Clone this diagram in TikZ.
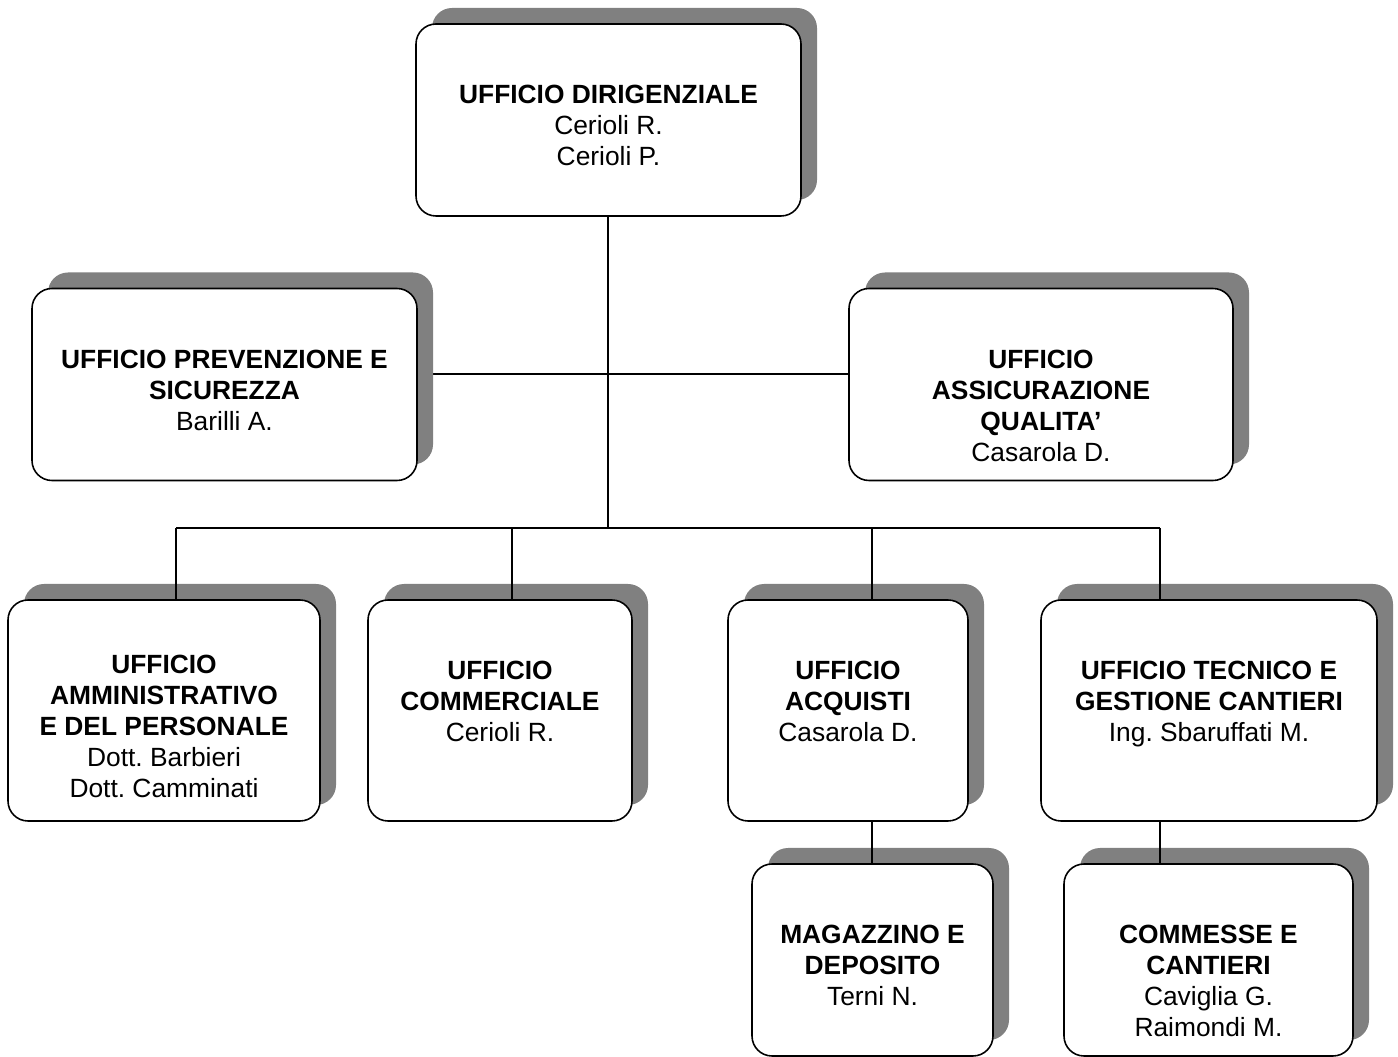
\documentclass[tikz,border=0pt]{standalone}
\usepackage{fontspec}
\setmainfont{Liberation Sans}
\usetikzlibrary{positioning,shadows,backgrounds}
\frenchspacing

\begin{document}
\begin{tikzpicture}[
        ufficio/.style={draw, line width=0.9pt, rounded corners=0.4cm, fill=white,
            minimum height=3.84cm, inner sep=0pt,
            drop shadow={shadow xshift=0.32cm, shadow yshift=0.32cm, fill=black!50, opacity=1}},
        testo/.style={align=center, inner sep=0pt, font=\fontsize{15}{17.6}\selectfont},
        linea/.style={line width=0.7pt}]
        \useasboundingbox (0,0) rectangle (27.96,-21.14);
        % caselle
        \node[ufficio, minimum width=7.7cm] (dir) at (12.17,-2.4) {};
        \node[ufficio, minimum width=7.7cm] (prev) at (4.49,-7.69) {};
        \node[ufficio, minimum width=7.68cm] (qual) at (20.82,-7.69) {};
        \node[ufficio, minimum width=6.24cm, minimum height=4.42cm] (amm) at (3.28,-14.21) {};
        \node[ufficio, minimum width=5.28cm, minimum height=4.42cm] (comm) at (10,-14.21) {};
        \node[ufficio, minimum width=4.8cm, minimum height=4.42cm] (acq) at (16.96,-14.21) {};
        \node[ufficio, minimum width=6.72cm, minimum height=4.42cm] (tec) at (24.18,-14.21) {};
        \node[ufficio, minimum width=4.82cm] (mag) at (17.45,-19.2) {};
        \node[ufficio, minimum width=5.78cm] (cant) at (24.17,-19.2) {};
        % testi
        \node[testo, below=1.24cm of dir.north] (tdir) {\textbf{UFFICIO DIRIGENZIALE}\\Cerioli R.\\Cerioli P.};
        \node[testo, below=1.24cm of prev.north] (tprev) {\textbf{UFFICIO PREVENZIONE E}\\\textbf{SICUREZZA}\\Barilli A.};
        \node[testo, below=1.24cm of qual.north] (tqual) {\textbf{UFFICIO}\\\textbf{ASSICURAZIONE}\\\textbf{QUALITA’}\\Casarola D.};
        \node[testo, below=1.12cm of amm.north] (tamm) {\textbf{UFFICIO}\\\textbf{AMMINISTRATIVO}\\\textbf{E DEL PERSONALE}\\Dott. Barbieri\\Dott. Camminati};
        \node[testo, below=1.24cm of comm.north] (tcomm) {\textbf{UFFICIO}\\\textbf{COMMERCIALE}\\Cerioli R.};
        \node[testo, below=1.24cm of acq.north] (tacq) {\textbf{UFFICIO}\\\textbf{ACQUISTI}\\Casarola D.};
        \node[testo, below=1.24cm of tec.north] (ttec) {\textbf{UFFICIO TECNICO E}\\\textbf{GESTIONE CANTIERI}\\Ing. Sbaruffati M.};
        \node[testo, below=1.24cm of mag.north] (tmag) {\textbf{MAGAZZINO E}\\\textbf{DEPOSITO}\\Terni N.};
        \node[testo, below=1.24cm of cant.north] (tcant) {\textbf{COMMESSE E}\\\textbf{CANTIERI}\\Caviglia G.\\Raimondi M.};
        % collegamenti
        \coordinate (mid) at (12.16,-7.48);
        \coordinate (bus) at (12.16,-10.56);
        \coordinate (jA) at (3.52,-10.56);
        \coordinate (jB) at (10.24,-10.56);
        \coordinate (jC) at (17.44,-10.56);
        \coordinate (jD) at (23.2,-10.56);
        \begin{pgfonlayer}{background}
            \draw[linea] (prev.east |- mid) -- (qual.west |- mid);
        \end{pgfonlayer}
        \draw[linea] (dir.south -| bus) -- (bus);
        \draw[linea] (jA) -- (jD);
        \foreach \j/\b in {jA/amm, jB/comm, jC/acq, jD/tec}
            \draw[linea] (\j) -- (\j |- \b.north);
        \draw[linea] (jC |- acq.south) -- (jC |- mag.north);
        \draw[linea] (jD |- tec.south) -- (jD |- cant.north);
\end{tikzpicture}
\end{document}
